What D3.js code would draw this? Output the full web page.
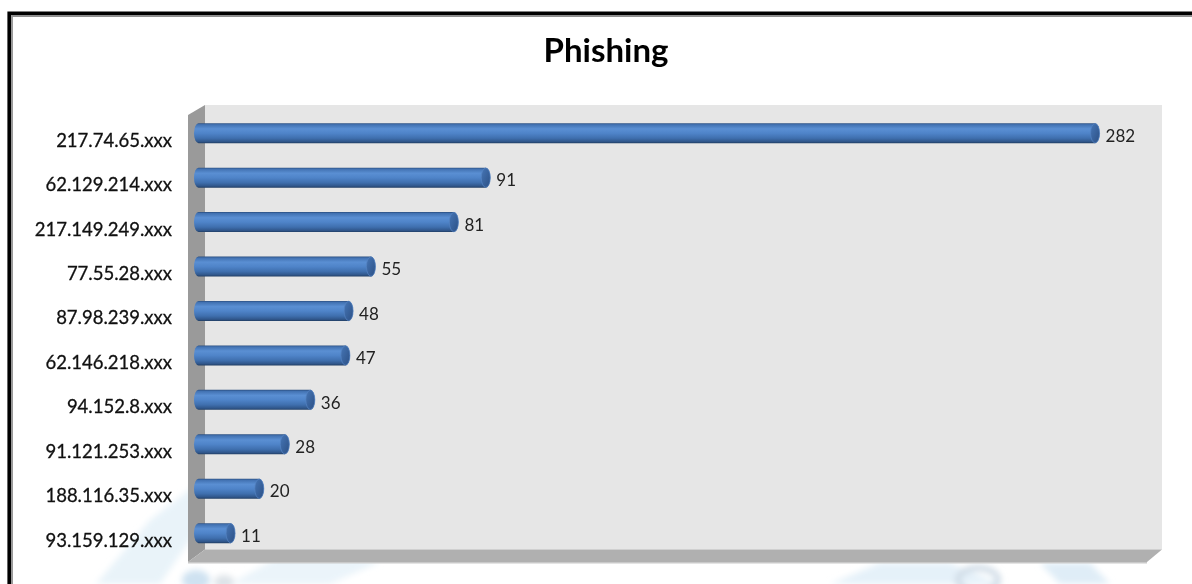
<!DOCTYPE html>
<html>
<head>
<meta charset="utf-8">
<script src="https://cdn.jsdelivr.net/npm/d3@7/dist/d3.min.js"></script>
<style>
  html, body { margin: 0; padding: 0; background: #ffffff; }
  svg { display: block; }
</style>
</head>
<body>
<svg id="chart" width="1192" height="584"></svg>
<script>
// Phishing sources by address block
const chartTitle = "Phishing";
const categories = [
  "217.74.65.xxx", "62.129.214.xxx", "217.149.249.xxx", "77.55.28.xxx",
  "87.98.239.xxx", "62.146.218.xxx", "94.152.8.xxx", "91.121.253.xxx",
  "188.116.35.xxx", "93.159.129.xxx"
];
const values = [282, 91, 81, 55, 48, 47, 36, 28, 20, 11];
const axisMax = 300;

const svg = d3.select("#chart");
const W = 1192, H = 584;
const font = "Lato, 'Open Sans', sans-serif";

svg.append("rect").attr("width", W).attr("height", H).attr("fill", "#ffffff");

const defs = svg.append("defs");

// body shading of the cylinders
const bodyGrad = defs.append("linearGradient").attr("id", "cylBody")
  .attr("x1", 0).attr("y1", 0).attr("x2", 0).attr("y2", 1);
[["0%", "#2a4e80"], ["7%", "#4272b2"], ["28%", "#5a8fd3"], ["50%", "#4f84c9"],
 ["75%", "#3f6fae"], ["92%", "#30568a"], ["100%", "#203d63"]]
  .forEach(([o, c]) => bodyGrad.append("stop").attr("offset", o).attr("stop-color", c));

const capGrad = defs.append("linearGradient").attr("id", "cylCap")
  .attr("x1", 0).attr("y1", 0).attr("x2", 1).attr("y2", 1);
[["0%", "#4676b6"], ["100%", "#2c5085"]]
  .forEach(([o, c]) => capGrad.append("stop").attr("offset", o).attr("stop-color", c));

defs.append("filter").attr("id", "soft")
  .attr("x", "-20%").attr("y", "-20%").attr("width", "140%").attr("height", "140%")
  .append("feGaussianBlur").attr("stdDeviation", 3);

// faint background emblem near the bottom edge
const mark = svg.append("g").attr("filter", "url(#soft)");
mark.append("path").attr("d", "M96,584 L150,520 L215,470 L250,475 L190,540 L160,584 Z")
  .attr("fill", "#e4f0f8").attr("opacity", 0.8);
mark.append("path").attr("d", "M230,584 L300,545 L380,562 L330,584 Z")
  .attr("fill", "#e6f1f9").attr("opacity", 0.8);
mark.append("ellipse").attr("cx", 196).attr("cy", 580).attr("rx", 14).attr("ry", 10)
  .attr("fill", "#cfe2f1");
mark.append("ellipse").attr("cx", 224).attr("cy", 582).attr("rx", 10).attr("ry", 7)
  .attr("fill", "#dde3e8");
mark.append("path").attr("d", "M830,584 L880,563 L950,563 L1000,584 Z")
  .attr("fill", "#e2eff8").attr("opacity", 0.9);
mark.append("path").attr("d", "M1040,563 L1090,563 L1110,584 L1060,584 Z")
  .attr("fill", "#dcebf6").attr("opacity", 0.9);
mark.append("ellipse").attr("cx", 978).attr("cy", 580).attr("rx", 20).attr("ry", 12)
  .attr("fill", "none").attr("stroke", "#cfdbe6").attr("stroke-width", 6);

// outer frame
svg.append("path").attr("d", "M9.2,600 V13.2 H1200")
  .attr("fill", "none").attr("stroke", "#000").attr("stroke-width", 3.6);
svg.append("path").attr("d", "M12,600 V16 H1200")
  .attr("fill", "none").attr("stroke", "#8f8f8f").attr("stroke-width", 1.8);

// title
svg.append("text").attr("x", 606).attr("y", 62)
  .attr("text-anchor", "middle")
  .attr("font-family", font).attr("font-weight", 700).attr("font-size", 33)
  .attr("fill", "#000").text(chartTitle);

// scales
const x = d3.scaleLinear().domain([0, axisMax]).range([200, 1157]);
const y = d3.scaleBand().domain(categories).range([111, 555.4])
  .paddingInner(0.55).paddingOuter(0.275);

// 3D walls: back wall, side wall and floor
const wallTop = 105, wallBottom = 549.5, depthX = 17, depthY = 12;
const backLeft = x(0) + 5, backRight = x(axisMax) + 5;
svg.append("rect")
  .attr("x", backLeft).attr("y", wallTop)
  .attr("width", backRight - backLeft).attr("height", wallBottom - wallTop)
  .attr("fill", "#e6e6e6");
svg.append("path")
  .attr("d", `M${backLeft - depthX},${wallTop + depthY - 2} L${backLeft},${wallTop}
              L${backLeft},${wallBottom} L${backLeft - depthX},${wallBottom + depthY + 0.5} Z`)
  .attr("fill", "#9a9a9a");
svg.append("path")
  .attr("d", `M${backLeft - depthX},${wallBottom + depthY + 0.5} L${backLeft},${wallBottom}
              L${backRight},${wallBottom} L${backRight - 15},${wallBottom + depthY + 0.5} Z`)
  .attr("fill", "#b0b0b0");
svg.append("line")
  .attr("x1", backLeft - depthX).attr("x2", backRight - 15)
  .attr("y1", wallBottom + depthY + 1.2).attr("y2", wallBottom + depthY + 1.2)
  .attr("stroke", "#c9c9c9").attr("stroke-width", 1.5);

// cylinder bars
const rx = 4.5;
const bars = svg.append("g");
categories.forEach((cat, i) => {
  const v = values[i];
  const top = y(cat), h = y.bandwidth(), bot = top + h, ry = h / 2;
  const xl = x(0) - 6;            // visible left end
  const xr = x(v);                // visible right end
  const lc = xl + rx, rc = xr - rx;
  bars.append("path")
    .attr("d", `M${lc},${top} L${rc},${top} A${rx},${ry} 0 0 1 ${rc},${bot}
                L${lc},${bot} A${rx},${ry} 0 0 1 ${lc},${top} Z`)
    .attr("fill", "url(#cylBody)");
  bars.append("ellipse")
    .attr("cx", rc).attr("cy", top + ry).attr("rx", rx).attr("ry", ry - 0.3)
    .attr("fill", "url(#cylCap)")
    .attr("stroke", "#5482c2").attr("stroke-width", 0.7);
});

// value labels
svg.append("g").selectAll("text").data(values).join("text")
  .attr("x", d => x(d) + 6)
  .attr("y", (d, i) => y(categories[i]) + y.bandwidth() / 2 + 8.7)
  .attr("font-family", font).attr("font-size", 17)
  .attr("fill", "#222")
  .text(d => d);

// category labels
svg.append("g").selectAll("text").data(categories).join("text")
  .attr("x", 172)
  .attr("y", d => y(d) + y.bandwidth() / 2 + 13.5)
  .attr("text-anchor", "end")
  .attr("font-family", font).attr("font-size", 18.5)
  .attr("fill", "#111").attr("stroke", "#111").attr("stroke-width", 0.3)
  .text(d => d);
</script>
</body>
</html>
